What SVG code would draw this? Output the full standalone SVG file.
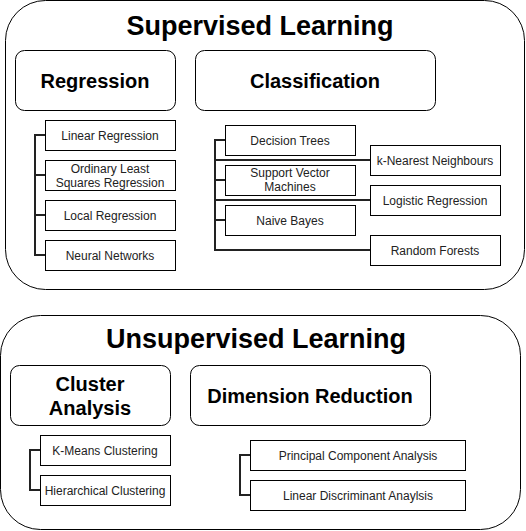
<svg xmlns="http://www.w3.org/2000/svg" width="526" height="531" viewBox="0 0 526 531">
<style>
.big{fill:#fff;stroke:#000;stroke-width:1}
.hdr{fill:#fff;stroke:#000;stroke-width:1}
.item{fill:#fff;stroke:#000;stroke-width:1}
.t1{font-family:"Liberation Sans",Arial,sans-serif;font-weight:bold;font-size:27px;fill:#000;text-anchor:middle}
.t2{font-family:"Liberation Sans",Arial,sans-serif;font-weight:bold;font-size:20px;fill:#000;text-anchor:middle}
.t3{font-family:"Liberation Sans",Arial,sans-serif;font-size:12px;fill:#222;text-anchor:middle}
.conn{fill:none;stroke:#222;stroke-width:2}
</style>
<g id="supervised"><rect class="big" x="5.5" y="0.5" width="519" height="289" rx="40" ry="40"/><text class="t1" x="260" y="35">Supervised Learning</text></g>
<g id="regression"><rect class="hdr" x="15.5" y="50.5" width="160" height="60" rx="9" ry="9"/><text class="t2" x="95" y="88">Regression</text></g>
<g id="classification"><rect class="hdr" x="195.5" y="50.5" width="240" height="60" rx="9" ry="9"/><text class="t2" x="315" y="88">Classification</text></g>
<g id="unsupervised"><rect class="big" x="0.5" y="315.5" width="520" height="214" rx="40" ry="40"/><text class="t1" x="256" y="348">Unsupervised Learning</text></g>
<g id="cluster"><rect class="hdr" x="10.5" y="365.5" width="160" height="60" rx="9" ry="9"/><text class="t2" x="90" y="391">Cluster</text><text class="t2" x="90" y="415">Analysis</text></g>
<g id="dimension"><rect class="hdr" x="190.5" y="365.5" width="240" height="60" rx="9" ry="9"/><text class="t2" x="310" y="403">Dimension Reduction</text></g>
<g id="connectors">
<path class="conn" d="M45,135H35V255H45M35,175H45M35,215H45"/>
<path class="conn" d="M225,140H215V250H370M215,160H370M215,180H225M215,200H370M215,220H225"/>
<path class="conn" d="M40,450H30V490H40"/>
<path class="conn" d="M250,455H240V495H250"/>
</g>
<g id="linear"><rect class="item" x="45.5" y="120.5" width="130" height="30"/><text class="t3" x="110" y="140">Linear Regression</text></g>
<g id="ols"><rect class="item" x="45.5" y="160.5" width="130" height="30"/><text class="t3" x="110" y="173">Ordinary Least</text><text class="t3" x="110" y="187">Squares Regression</text></g>
<g id="local"><rect class="item" x="45.5" y="200.5" width="130" height="30"/><text class="t3" x="110" y="220">Local Regression</text></g>
<g id="neural"><rect class="item" x="45.5" y="240.5" width="130" height="30"/><text class="t3" x="110" y="260">Neural Networks</text></g>
<g id="dtrees"><rect class="item" x="225.5" y="125.5" width="130" height="30"/><text class="t3" x="290" y="145">Decision Trees</text></g>
<g id="svm"><rect class="item" x="225.5" y="165.5" width="130" height="30"/><text class="t3" x="290" y="177">Support Vector</text><text class="t3" x="290" y="191">Machines</text></g>
<g id="nbayes"><rect class="item" x="225.5" y="205.5" width="130" height="30"/><text class="t3" x="290" y="225">Naive Bayes</text></g>
<g id="knn"><rect class="item" x="370.5" y="145.5" width="130" height="30"/><text class="t3" x="435" y="165">k-Nearest Neighbours</text></g>
<g id="logistic"><rect class="item" x="370.5" y="185.5" width="130" height="30"/><text class="t3" x="435" y="205">Logistic Regression</text></g>
<g id="rforest"><rect class="item" x="370.5" y="235.5" width="130" height="30"/><text class="t3" x="435" y="255">Random Forests</text></g>
<g id="kmeans"><rect class="item" x="40.5" y="435.5" width="130" height="30"/><text class="t3" x="105" y="455">K-Means Clustering</text></g>
<g id="hier"><rect class="item" x="40.5" y="475.5" width="130" height="30"/><text class="t3" x="105" y="495">Hierarchical Clustering</text></g>
<g id="pca"><rect class="item" x="250.5" y="440.5" width="215" height="30"/><text class="t3" x="358" y="460">Principal Component Analysis</text></g>
<g id="lda"><rect class="item" x="250.5" y="480.5" width="215" height="30"/><text class="t3" x="358" y="500">Linear Discriminant Anaylsis</text></g>
</svg>
